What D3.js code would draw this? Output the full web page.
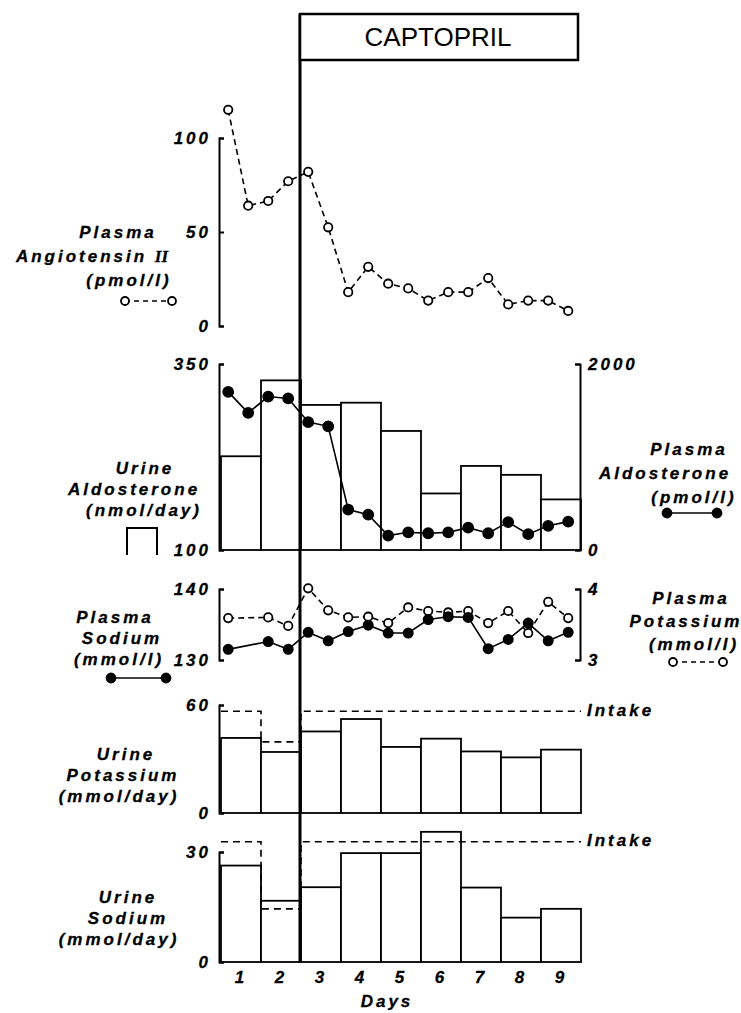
<!DOCTYPE html>
<html>
<head>
<meta charset="utf-8">
<script src="https://cdn.jsdelivr.net/npm/d3@7"></script>
<style>
  body { margin: 0; background: #fff; }
  text { font-family: "Liberation Sans", Arial, sans-serif; font-weight: bold; font-style: italic; letter-spacing: 3px; fill: #000; stroke: #000; stroke-width: 0.3px; }
  .plain { font-style: normal; font-weight: normal; letter-spacing: 0; stroke: none; }
</style>
</head>
<body>
<svg id="chart"></svg>
<script>
// days of the study, each bar spans [day, day + 1]
const days = [1, 2, 3, 4, 5, 6, 7, 8, 9];
const captoprilStart = 3;

// two blood samples a day
const sampleTimes = [1.18, 1.68, 2.18, 2.68, 3.18, 3.68, 4.18, 4.68, 5.18, 5.68, 6.18, 6.68, 7.18, 7.68, 8.18, 8.68, 9.18, 9.68];
const angiotensin = [115, 64, 66.5, 77, 82, 52.5, 18, 31.5, 22.5, 20, 13.5, 18, 18, 25.5, 11.5, 13.5, 13.5, 8];
const plasmaAldo = [1700, 1475, 1650, 1630, 1375, 1330, 435, 380, 155, 190, 180, 190, 240, 180, 300, 170, 260, 305];
const urineAldo = [226, 328, 295, 298, 260, 176, 213, 201, 168];

// electrolytes: no second sample on day 1
const electrolyteTimes = [1.18, 2.18, 2.68, 3.18, 3.68, 4.18, 4.68, 5.18, 5.68, 6.18, 6.68, 7.18, 7.68, 8.18, 8.68, 9.18, 9.68];
const plasmaSodium = [131.5, 132.6, 131.5, 133.9, 132.7, 134.0, 134.9, 133.8, 133.8, 135.7, 136.1, 136.0, 131.6, 132.9, 135.2, 132.7, 133.9];
const plasmaPotassium = [3.59, 3.60, 3.48, 4.01, 3.70, 3.60, 3.61, 3.52, 3.74, 3.69, 3.67, 3.69, 3.52, 3.69, 3.38, 3.82, 3.59];

const urinePotassium = [41.7, 33.9, 45.3, 52.2, 36.7, 41.3, 34.2, 30.9, 35.2];
const potassiumIntake = [56.5, 39.5, 56.5, 56.5, 56.5, 56.5, 56.5, 56.5, 56.5];
const urineSodium = [26.3, 16.7, 20.4, 29.7, 29.7, 35.5, 20.3, 12.1, 14.5];
const sodiumIntake = [32.8, 14.5, 32.8, 32.8, 32.8, 32.8, 32.8, 32.8, 32.8];

const angTicks = [0, 50, 100];
const uAldoTicks = [100, 350];
const pAldoTicks = [0, 2000];
const naTicks = [130, 140];
const kTicks = [3, 4];
const ukTicks = [0, 60];
const unaTicks = [0, 30];

const svg = d3.select('#chart')
    .attr('width', 741)
    .attr('height', 1013);

const x = d3.scaleLinear().domain([1, 10]).range([221, 581]);
const axisL = 219;
const axisR = 580;

const yAng = d3.scaleLinear().domain([0, 100]).range([326, 138]);
const yUAldo = d3.scaleLinear().domain([100, 350]).range([550, 364]);
const yPAldo = d3.scaleLinear().domain([0, 2000]).range([550, 364]);
const yNa = d3.scaleLinear().domain([130, 140]).range([660, 589]);
const yK = d3.scaleLinear().domain([3, 4]).range([660, 589]);
const yUK = d3.scaleLinear().domain([0, 60]).range([813, 705]);
const yUNa = d3.scaleLinear().domain([0, 30]).range([962, 852]);

function drawAxis(axis, xPos) {
  const g = svg.append('g')
      .attr('transform', `translate(${xPos},0)`)
      .call(axis);
  g.attr('font-size', null).attr('font-family', null);
  g.select('.domain').attr('stroke-width', 2);
  g.selectAll('.tick line').attr('stroke-width', 2);
  g.selectAll('.tick text').attr('font-size', 17);
}

const left = ticks => d3.axisLeft().tickValues(ticks).tickSize(-5).tickPadding(8).tickFormat(d3.format('d'));
const right = ticks => d3.axisRight().tickValues(ticks).tickSize(-5).tickPadding(8).tickFormat(d3.format('d'));

function drawBars(values, y, base) {
  svg.append('g')
    .selectAll('rect')
    .data(values)
    .join('rect')
      .attr('x', (d, i) => x(days[i]))
      .attr('width', (d, i) => x(days[i] + 1) - x(days[i]))
      .attr('y', d => y(d))
      .attr('height', d => y(base) - y(d))
      .attr('fill', '#fff')
      .attr('stroke', '#000')
      .attr('stroke-width', 1.8);
}

function drawIntake(values, y, labelY) {
  const pts = days.map((d, i) => [d, values[i]]);
  pts.push([days[days.length - 1] + 1, values[values.length - 1]]);
  svg.append('path')
      .datum(pts)
      .attr('d', d3.line().curve(d3.curveStepAfter).x(d => x(d[0])).y(d => y(d[1])))
      .attr('fill', 'none')
      .attr('stroke', '#000')
      .attr('stroke-width', 1.6)
      .attr('stroke-dasharray', '7,5');
  svg.append('text')
      .attr('x', 587)
      .attr('y', labelY)
      .attr('font-size', 17)
      .text('Intake');
}

function drawSeries(times, values, y, filled, r) {
  const line = d3.line().x((d, i) => x(times[i])).y(d => y(d));
  svg.append('path')
      .datum(values)
      .attr('d', line)
      .attr('fill', 'none')
      .attr('stroke', '#000')
      .attr('stroke-width', 1.6)
      .attr('stroke-dasharray', filled ? null : '6,4');
  svg.append('g')
    .selectAll('circle')
    .data(values)
    .join('circle')
      .attr('cx', (d, i) => x(times[i]))
      .attr('cy', d => y(d))
      .attr('r', r)
      .attr('fill', filled ? '#000' : '#fff')
      .attr('stroke', '#000')
      .attr('stroke-width', 1.8);
}

function legendDots(x1, x2, y, filled) {
  svg.append('line')
      .attr('x1', x1).attr('x2', x2).attr('y1', y).attr('y2', y)
      .attr('stroke', '#000').attr('stroke-width', 1.6)
      .attr('stroke-dasharray', filled ? null : '5,4');
  [x1, x2].forEach(cx => svg.append('circle')
      .attr('cx', cx).attr('cy', y).attr('r', filled ? 4.5 : 4)
      .attr('fill', filled ? '#000' : '#fff')
      .attr('stroke', '#000').attr('stroke-width', 1.8));
}

function label(lines, cx, y0, step) {
  const t = svg.append('text')
      .attr('text-anchor', 'middle')
      .attr('font-size', 17);
  lines.forEach((l, i) => {
    const ts = t.append('tspan').attr('x', cx[i]).attr('y', y0 + i * step);
    if (typeof l === 'string') ts.text(l);
    else {
      ts.text(l[0]);
      ts.append('tspan').attr('font-family', 'Liberation Serif').attr('letter-spacing', 0).text(l[1]);
    }
  });
}

// bars
drawBars(urineAldo, yUAldo, 100);
drawBars(urinePotassium, yUK, 0);
drawBars(urineSodium, yUNa, 0);

drawIntake(potassiumIntake, yUK, 716);
drawIntake(sodiumIntake, yUNa, 846);

// axes
drawAxis(left(angTicks).scale(yAng), axisL);
drawAxis(left(uAldoTicks).scale(yUAldo), axisL);
drawAxis(right(pAldoTicks).scale(yPAldo), axisR);
drawAxis(left(naTicks).scale(yNa), axisL);
drawAxis(right(kTicks).scale(yK), axisR);
drawAxis(left(ukTicks).scale(yUK), axisL);
drawAxis(left(unaTicks).scale(yUNa), axisL);

// captopril marker
const cx0 = x(captoprilStart) - 1;
svg.append('line')
    .attr('x1', cx0).attr('x2', cx0)
    .attr('y1', 14).attr('y2', yUNa(0))
    .attr('stroke', '#000').attr('stroke-width', 3);
svg.append('rect')
    .attr('x', cx0).attr('y', 14)
    .attr('width', 578 - cx0).attr('height', 46)
    .attr('fill', '#fff').attr('stroke', '#000').attr('stroke-width', 2.5);
svg.append('text')
    .attr('class', 'plain')
    .attr('x', 438).attr('y', 46)
    .attr('text-anchor', 'middle')
    .attr('font-size', 26)
    .text('CAPTOPRIL');

// series
drawSeries(sampleTimes, angiotensin, yAng, false, 4.2);
drawSeries(sampleTimes, plasmaAldo, yPAldo, true, 5);
drawSeries(electrolyteTimes, plasmaPotassium, yK, false, 4.2);
drawSeries(electrolyteTimes, plasmaSodium, yNa, true, 4.6);

// day ticks
svg.append('g')
  .selectAll('text')
  .data(days)
  .join('text')
    .attr('x', d => x(d + 0.5))
    .attr('y', 983)
    .attr('text-anchor', 'middle')
    .attr('font-size', 17)
    .text(d => d);
svg.append('text')
    .attr('x', 387).attr('y', 1007)
    .attr('text-anchor', 'middle')
    .attr('font-size', 17)
    .text('Days');

// labels and keys
label(['Plasma', ['Angiotensin ', 'II'], '(pmol/l)'], [118, 92, 129], 238, 24);
legendDots(125, 172, 301, false);

label(['Urine', 'Aldosterone', '(nmol/day)'], [145, 134, 144], 474, 21);
svg.append('path')
    .attr('d', 'M127,555V528H157V555')
    .attr('fill', 'none').attr('stroke', '#000').attr('stroke-width', 2);

label(['Plasma', 'Aldosterone', '(pmol/l)'], [689, 665, 694], 455, 24);
legendDots(667, 717, 513, true);

label(['Plasma', 'Sodium', '(mmol/l)'], [115, 122, 119], 623, 21);
legendDots(111, 166, 678, true);

label(['Plasma', 'Potassium', '(mmol/l)'], [691, 686, 694], 604, 23);
legendDots(673, 723, 662, false);

label(['Urine', 'Potassium', '(mmol/day)'], [126, 123, 119], 760, 21);
label(['Urine', 'Sodium', '(mmol/day)'], [128, 128, 119], 903, 21);
</script>
</body>
</html>
